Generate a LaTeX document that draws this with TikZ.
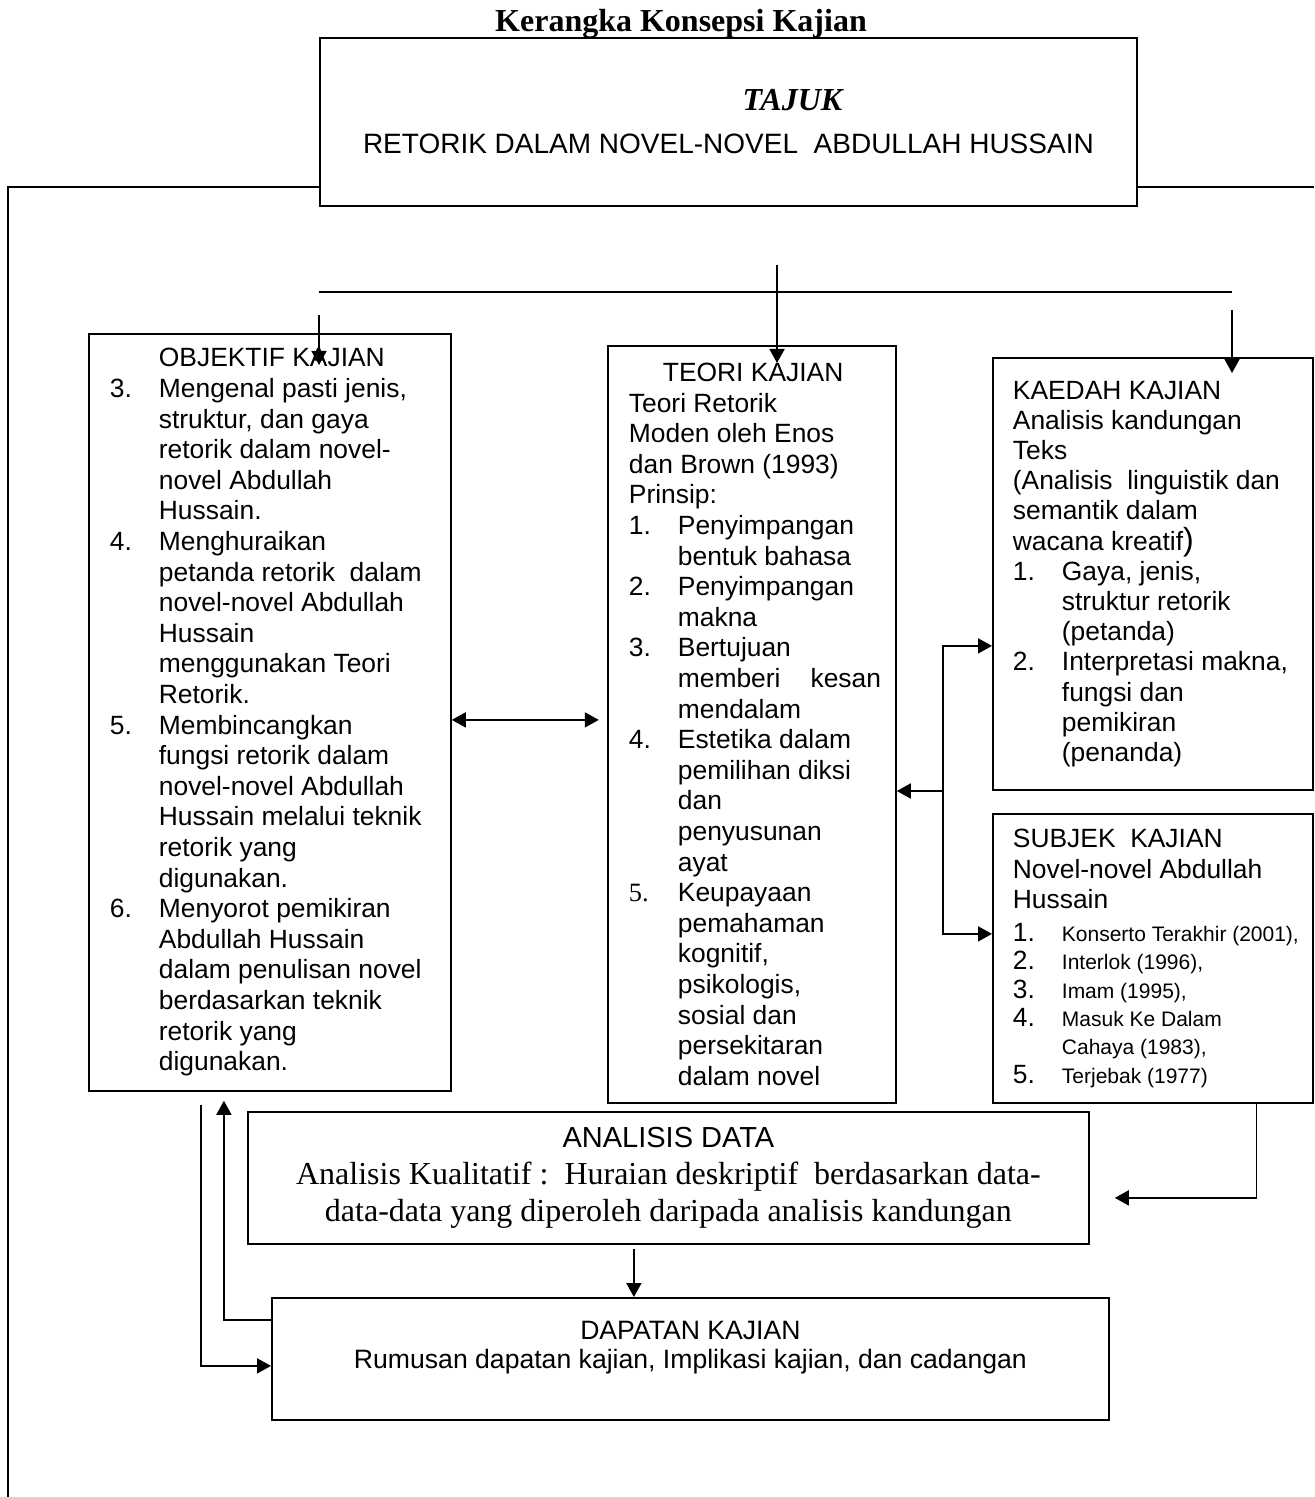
\documentclass[tikz,border=0pt]{standalone}
\usepackage{fontspec}
\setmainfont{Liberation Serif}
\setsansfont{Liberation Sans}
\usetikzlibrary{arrows.meta,calc}

\newcommand{\butir}[1]{\makebox[24.5pt][l]{#1}}
\newcommand{\lanjut}{\hspace*{24.5pt}}
\newcommand{\kecil}{\fontsize{10.5}{14.2}\selectfont}

\begin{document}
\begin{tikzpicture}
  [
    x=0.5pt, y=-0.5pt,
    line width=0.9pt,
    >={Triangle[length=7pt,width=7.5pt]},
    kotak/.style={draw, anchor=north west, inner sep=0pt},
    isi/.style={kotak, align=flush left, font=\sffamily\fontsize{13.2}{15.3}\selectfont}
    ]
   \tikzstyle{arrow} = [->]

  \useasboundingbox (0,0) rectangle (1314,1497);

  % judul dan bingkai luar
  \node[font=\rmfamily\bfseries\fontsize{16}{19}\selectfont, anchor=base] (judul) at (681,32) {Kerangka Konsepsi Kajian};
  \draw (8,1497) -- (8,187) -- (319,187);
  \draw (1136,187) -- (1314,187);

  \node[kotak, text width=408.5pt, minimum height=84pt, align=flush center, font=\sffamily] (tajuk) at (319,37)
    {{\rmfamily\bfseries\itshape\fontsize{16}{19}\selectfont\hspace*{64pt}TAJUK}\\
     \fontsize{14}{21.5}\selectfont RETORIK DALAM NOVEL-NOVEL\ \ ABDULLAH HUSSAIN\par};

  % kotak-kotak utama
  \node[isi, text width=181pt, minimum height=378.5pt] (objektif) at (88,333)
    {\leftskip=10.5pt
     \lanjut OBJEKTIF KAJIAN\\
     \butir{3.}Mengenal pasti jenis,\\
     \lanjut struktur, dan gaya\\
     \lanjut retorik dalam novel-\\
     \lanjut novel Abdullah\\
     \lanjut Hussain.\\
     \butir{4.}Menghuraikan\\
     \lanjut petanda retorik\ \ dalam\\
     \lanjut novel-novel Abdullah\\
     \lanjut Hussain\\
     \lanjut menggunakan Teori\\
     \lanjut Retorik.\\
     \butir{5.}Membincangkan\\
     \lanjut fungsi retorik dalam\\
     \lanjut novel-novel Abdullah\\
     \lanjut Hussain melalui teknik\\
     \lanjut retorik yang\\
     \lanjut digunakan.\\
     \butir{6.}Menyorot pemikiran\\
     \lanjut Abdullah Hussain\\
     \lanjut dalam penulisan novel\\
     \lanjut berdasarkan teknik\\
     \lanjut retorik yang\\
     \lanjut digunakan.\par};

  \node[isi, text width=144pt, minimum height=378.5pt] (teori) at (607,345)
    {\leftskip=10.5pt
     \hspace*{17pt}TEORI KAJIAN\\
     Teori Retorik\\
     Moden oleh Enos\\
     dan Brown (1993)\\
     Prinsip:\\
     \butir{1.}Penyimpangan\\
     \lanjut bentuk bahasa\\
     \butir{2.}Penyimpangan\\
     \lanjut makna\\
     \butir{3.}Bertujuan\\
     \lanjut memberi\hspace{15pt}kesan\\
     \lanjut mendalam\\
     \butir{4.}Estetika dalam\\
     \lanjut pemilihan diksi\\
     \lanjut dan\\
     \lanjut penyusunan\\
     \lanjut ayat\\
     \butir{\rmfamily 5.}Keupayaan\\
     \lanjut pemahaman\\
     \lanjut kognitif,\\
     \lanjut psikologis,\\
     \lanjut sosial dan\\
     \lanjut persekitaran\\
     \lanjut dalam novel\par};

  \node[isi, text width=160pt, minimum height=216pt, font=\sffamily\fontsize{13.2}{15.1}\selectfont] (kaedah) at (992,357)
    {\leftskip=10pt
     KAEDAH KAJIAN\\
     Analisis kandungan\\
     Teks\\
     (Analisis\ \ linguistik dan\\
     semantik dalam\\
     wacana kreatif{\fontsize{16}{15.1}\selectfont)}\\
     \butir{1.}Gaya, jenis,\\
     \lanjut struktur retorik\\
     \lanjut (petanda)\\
     \butir{2.}Interpretasi makna,\\
     \lanjut fungsi dan\\
     \lanjut pemikiran\\
     \lanjut (penanda)\par};

  \node[isi, text width=160pt, minimum height=144.5pt] (subjek) at (992,813)
    {\leftskip=10pt
     SUBJEK\ \ KAJIAN\\
     Novel-novel Abdullah\\
     Hussain\\[2pt]
     \fontsize{13.2}{14.2}\selectfont
     \butir{1.}{\kecil Konserto Terakhir (2001),}\\
     \butir{2.}{\kecil Interlok (1996),}\\
     \butir{3.}{\kecil Imam (1995),}\\
     \butir{4.}{\kecil Masuk Ke Dalam}\\
     \lanjut{\kecil Cahaya (1983),}\\
     \butir{5.}{\kecil Terjebak (1977)}\par};

  \node[kotak, text width=420.5pt, minimum height=66pt, align=flush center] (analisis) at (247,1111)
    {\sffamily\fontsize{14.5}{18.5}\selectfont ANALISIS DATA\\
     \rmfamily\fontsize{16}{18.5}\selectfont Analisis Kualitatif :\ \ Huraian deskriptif\ \ berdasarkan data-\\
     data-data yang diperoleh daripada analisis kandungan\par};

  \node[kotak, text width=418.5pt, minimum height=61pt, align=flush center, font=\sffamily\fontsize{13.3}{14.5}\selectfont] (dapatan) at (271,1297)
    {DAPATAN KAJIAN\\
     Rumusan dapatan kajian, Implikasi kajian, dan cadangan\\
     \mbox{}\par};

  % garis cabang dari tajuk
  \coordinate (kiriAtas) at (319,292);
  \coordinate (kananAtas) at (1232,292);
  \coordinate (pusat) at (777,265);
  \coordinate (kiriTurun) at (319,315);
  \coordinate (kananTurun) at (1232,310);
  \draw (kiriAtas) -- (kananAtas);
  \draw[arrow] (pusat) -- ($(pusat |- teori.north)+(0,18)$);
  \draw[arrow] (kiriTurun) -- ($(kiriTurun |- objektif.north)+(0,32)$);
  \draw[arrow] (kananTurun) -- ($(kananTurun |- kaedah.north)+(0,16)$);

  % hubungan antara kotak
  \draw[<->] ($(objektif.east)+(0,7.5)$) -- ++(147,0);
  \coordinate (cabang) at (943,791);
  \draw[arrow] (cabang) -- (cabang -| teori.east);
  \draw[arrow] (cabang) |- ($(kaedah.west)+(0,72)$);
  \draw[arrow] (cabang) |- ($(subjek.west)+(0,-24.5)$);
  \draw[arrow] ($(subjek.south)+(103.5,-2)$) |- ($(analisis.east)+(25,20)$);
  \draw[arrow] ($(analisis.south)+(-34.5,4)$) -- ($(analisis.south |- dapatan.north)+(-34.5,0)$);
  \draw[arrow] ($(dapatan.west)+(0,-39)$) -| ($(objektif.south)+(-46,9)$);
  \draw[arrow] ($(objektif.south)+(-69,13)$) |- ($(dapatan.west)+(0,7)$);

\end{tikzpicture}
\end{document}
